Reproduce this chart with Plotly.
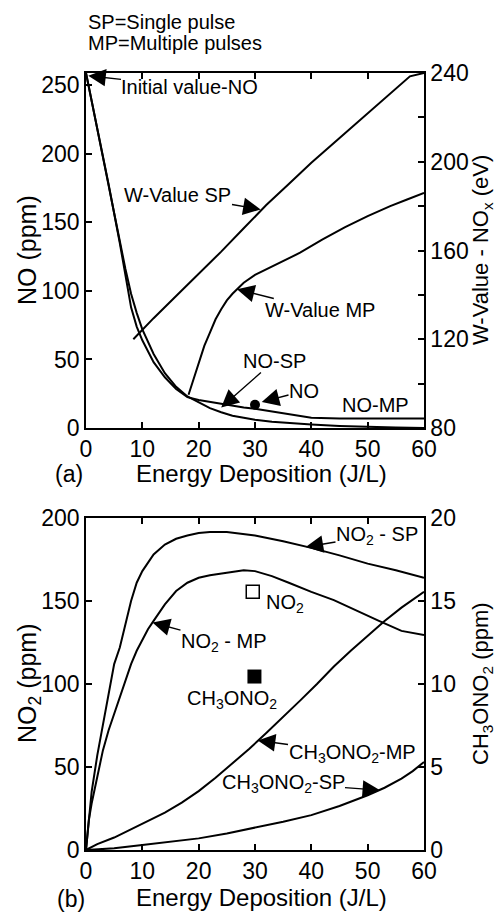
import plotly.graph_objects as go

# ---------------- panel (a): NO removal and W-values ----------------
no_x = [0, 2, 4, 6, 7, 8, 9, 10, 12, 14, 16, 18, 20, 22, 24, 26, 28, 30, 33, 36, 40, 45, 50, 55, 60]
no_sp = [259, 218, 177, 136, 116, 98, 84, 72, 54, 40, 30, 23, 18.5, 14.5, 11.5, 9, 7.5, 6, 4.5, 3.5, 2.5, 1.5, 0.8, 0.3, 0]
no_mp = [259, 219, 178, 135, 112, 88, 74, 64, 48, 37, 28.5, 22.5, 20.5, 19, 17.5, 16, 15, 14, 12, 10, 7.5, 7, 7, 7, 7]

wsp_x = [8.4, 12, 16, 20, 24, 28, 32, 36, 40, 44, 48, 52, 55, 57.5, 60]
wsp = [120, 129.5, 139.5, 149.5, 159.5, 170, 180.5, 190, 199.5, 208.5, 217.5, 226.5, 233, 238.5, 240]

wmp_x = [18.2, 19, 20, 21, 22, 23, 24, 25, 26, 27, 28, 30, 32, 35, 38, 42, 46, 50, 54, 57, 60]
wmp = [95, 101, 109, 117, 123, 129, 133.5, 137.5, 140.5, 143, 145.5, 149, 151.5, 155, 159, 165, 170.5, 175.5, 180, 183, 186]

no_point = (30, 17)

# ---------------- panel (b): NO2 and CH3ONO2 ----------------
no2sp_x = [0, 0.5, 1, 2, 3, 4, 5, 6, 7, 8, 9, 10, 12, 14, 16, 18, 20, 22, 25, 28, 30, 35, 40, 45, 50, 55, 60]
no2_sp = [0, 18, 35, 57, 75, 95, 112, 122, 136, 150, 161, 168, 178, 184, 187.5, 189.5, 191, 191.5, 191.5, 190.5, 189.5, 186, 182, 177.5, 172.5, 168.5, 164]

no2mp_x = [0, 0.5, 1, 2, 3, 4, 5, 6, 7, 8, 9, 10, 11, 12, 14, 16, 18, 20, 22, 25, 28, 30, 33, 36, 40, 44, 48, 52, 56, 60]
no2_mp = [0, 18, 28, 45, 60, 72, 82, 92, 102, 112, 120, 127, 133, 138, 148, 156, 161, 164, 165.5, 167, 168.5, 168, 165, 161, 155.5, 150.5, 144, 138, 132, 129.5]

mn_mp_x = [0, 2, 5, 8, 11, 14, 17, 20, 23, 26, 29, 32, 35, 38, 41, 44, 47, 50, 53, 56, 60]
mn_mp = [0, 0.35, 0.75, 1.25, 1.75, 2.25, 2.85, 3.55, 4.35, 5.2, 6.1, 7.05, 8.0, 9.0, 10.0, 11.05, 12.0, 12.9, 13.8, 14.6, 15.55]

mn_sp_x = [0, 5, 10, 15, 20, 25, 30, 35, 40, 45, 50, 53, 56, 58, 60]
mn_sp = [0, 0.1, 0.3, 0.5, 0.7, 1.0, 1.35, 1.7, 2.1, 2.65, 3.3, 3.75, 4.3, 4.75, 5.3]

no2_point = (29.6, 155.5)
mn_point = (29.9, 104.5)

x_ticks = [0, 10, 20, 30, 40, 50, 60]
no_ticks = [0, 50, 100, 150, 200, 250]
no2_ticks = [0, 50, 100, 150, 200]
mn_ticks = [0, 5, 10, 15, 20]

NO_RANGE = [0, 259]
W_RANGE = [80, 240]
NO2_RANGE = [0, 200]
MN_RANGE = [0, 20]

FONT = "Liberation Sans, Arial, Helvetica, sans-serif"
W, H = 495, 913
ML, MR, MT, MB = 86, 71, 73, 63
PW, PH = W - ML - MR, H - MT - MB
TOP_Y0, TOP_Y1 = 428, MT          # pixel rows of panel (a) bottom/top
BOT_Y0, BOT_Y1 = H - MB, 518      # pixel rows of panel (b) bottom/top


def px(p):
    return (p - ML) / PW


def py(p):
    return (H - MB - p) / PH


def to_px_x(v):
    return ML + v / 60 * PW


def to_px_y(v, rng, y0, y1):
    return y0 - (v - rng[0]) / (rng[1] - rng[0]) * (y0 - y1)


line = dict(color="black", width=2)
fig = go.Figure()

fig.add_trace(go.Scatter(x=no_x, y=no_sp, mode="lines", line=line, xaxis="x", yaxis="y"))
fig.add_trace(go.Scatter(x=no_x, y=no_mp, mode="lines", line=line, xaxis="x", yaxis="y"))
fig.add_trace(go.Scatter(x=wsp_x, y=wsp, mode="lines", line=line, xaxis="x", yaxis="y2"))
fig.add_trace(go.Scatter(x=wmp_x, y=wmp, mode="lines", line=line, xaxis="x", yaxis="y2"))
fig.add_trace(go.Scatter(x=[no_point[0]], y=[no_point[1]], mode="markers",
                         marker=dict(color="black", size=10, symbol="circle"), xaxis="x", yaxis="y"))

fig.add_trace(go.Scatter(x=no2sp_x, y=no2_sp, mode="lines", line=line, xaxis="x2", yaxis="y3"))
fig.add_trace(go.Scatter(x=no2mp_x, y=no2_mp, mode="lines", line=line, xaxis="x2", yaxis="y3"))
fig.add_trace(go.Scatter(x=mn_mp_x, y=mn_mp, mode="lines", line=line, xaxis="x2", yaxis="y4"))
fig.add_trace(go.Scatter(x=mn_sp_x, y=mn_sp, mode="lines", line=line, xaxis="x2", yaxis="y4"))
fig.add_trace(go.Scatter(x=[no2_point[0]], y=[no2_point[1]], mode="markers",
                         marker=dict(color="white", size=13, symbol="square",
                                     line=dict(color="black", width=1.5)), xaxis="x2", yaxis="y3"))
fig.add_trace(go.Scatter(x=[mn_point[0]], y=[mn_point[1]], mode="markers",
                         marker=dict(color="black", size=14, symbol="square"), xaxis="x2", yaxis="y3"))

tickfont = dict(family=FONT, size=23, color="black")
ax_common = dict(showline=True, linecolor="black", linewidth=1.5, ticks="inside", ticklen=6,
                 tickwidth=1.5, tickcolor="black", showgrid=False, zeroline=False, tickfont=tickfont)

top_dom = [py(TOP_Y0), 1.0]
bot_dom = [0.0, py(BOT_Y1)]

fig.update_layout(
    width=W, height=H, showlegend=False,
    margin=dict(l=ML, r=MR, t=MT, b=MB),
    paper_bgcolor="white", plot_bgcolor="white",
    font=dict(family=FONT, color="black"),
    xaxis=dict(domain=[0, 1], anchor="y", range=[0, 60], tickvals=x_ticks, mirror="ticks", **ax_common),
    yaxis=dict(domain=top_dom, anchor="x", range=NO_RANGE, tickvals=no_ticks, **ax_common),
    yaxis2=dict(overlaying="y", side="right", anchor="x", range=W_RANGE, tick0=80, dtick=40,
                minor=dict(dtick=20, ticks="inside", ticklen=6, tickwidth=1.5, tickcolor="black",
                           showgrid=False),
                **ax_common),
    xaxis2=dict(domain=[0, 1], anchor="y3", range=[0, 60], tickvals=x_ticks, mirror="ticks", **ax_common),
    yaxis3=dict(domain=bot_dom, anchor="x2", range=NO2_RANGE, tickvals=no2_ticks, **ax_common),
    yaxis4=dict(overlaying="y3", side="right", anchor="x2", range=MN_RANGE, tickvals=mn_ticks, **ax_common),
)

ann = []


def text(x, y, s, size=20, xanchor="left", angle=0):
    ann.append(dict(x=px(x), y=py(y), xref="paper", yref="paper", text=s, showarrow=False,
                    xanchor=xanchor, yanchor="middle", textangle=angle,
                    font=dict(family=FONT, size=size, color="black")))


def label(s, tip, xr, yr, center, size=20):
    """Text centred at pixel `center` with an arrow pointing at data point `tip`."""
    rng, y0, y1 = {"y": (NO_RANGE, TOP_Y0, TOP_Y1), "y2": (W_RANGE, TOP_Y0, TOP_Y1),
                   "y3": (NO2_RANGE, BOT_Y0, BOT_Y1), "y4": (MN_RANGE, BOT_Y0, BOT_Y1)}[yr]
    tx, ty = to_px_x(tip[0]), to_px_y(tip[1], rng, y0, y1)
    ann.append(dict(x=tip[0], y=tip[1], xref=xr, yref=yr, ax=center[0] - tx, ay=center[1] - ty,
                    text=s, showarrow=True, arrowhead=2, arrowsize=2.5, arrowwidth=1.4,
                    arrowcolor="black", standoff=0, borderpad=0,
                    font=dict(family=FONT, size=size, color="black")))


# abbreviations
text(86, 22, "SP=Single pulse", size=20)
text(86, 43, "MP=Multiple pulses", size=20)

# panel (a) labels
label("Initial value-NO", (0.4, 257), "x", "y", (190, 87))
label("W-Value SP", (31, 178.5), "x", "y2", (178, 195))
label("W-Value MP", (26.8, 142.5), "x", "y2", (320, 310))
label("NO-SP", (24, 15), "x", "y", (274, 361))
label("NO", (31.2, 19), "x", "y", (304, 391))
text(340, 405, "NO-MP")

# panel (b) labels
label("NO<sub>2</sub> - SP", (39, 182.5), "x2", "y3", (377, 535))
label("NO<sub>2</sub> - MP", (11.8, 137), "x2", "y3", (224, 642))
text(264, 603, "NO<sub>2</sub>")
text(232, 699, "CH<sub>3</sub>ONO<sub>2</sub>", xanchor="center")
label("CH<sub>3</sub>ONO<sub>2</sub>-MP", (30.5, 6.6), "x2", "y4", (352, 753))
label("CH<sub>3</sub>ONO<sub>2</sub>-SP", (52.2, 3.6), "x2", "y4", (283, 783))

# axis titles and panel tags
text(261, 474, "Energy Deposition (J/L)", size=24, xanchor="center")
text(261, 897, "Energy Deposition (J/L)", size=24, xanchor="center")
text(53, 474, "(a)", size=23)
text(55, 899, "(b)", size=23)
text(27, 250, "NO (ppm)", size=25, xanchor="center", angle=-90)
text(482, 250, "W-Value - NO<sub>x</sub> (eV)", size=22, xanchor="center", angle=-90)
text(29, 684, "NO<sub>2</sub> (ppm)", size=25, xanchor="center", angle=-90)
text(482, 684, "CH<sub>3</sub>ONO<sub>2</sub> (ppm)", size=22, xanchor="center", angle=-90)

fig.update_layout(annotations=ann)
fig.write_html("out.html")
